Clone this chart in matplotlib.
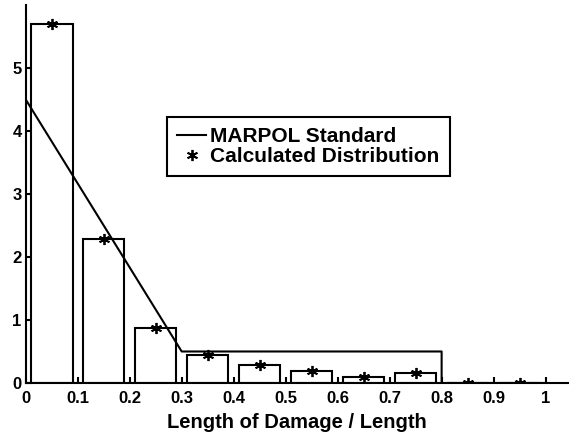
import numpy as np
import matplotlib
matplotlib.use('Agg')
import matplotlib.pyplot as plt
from matplotlib.legend_handler import HandlerLine2D

plt.rcParams['font.family'] = ['Liberation Sans', 'DejaVu Sans']
plt.rcParams['font.weight'] = 'bold'

# 损伤长度分布（按 0.1 分组）
bin_centers = [0.05, 0.15, 0.25, 0.35, 0.45, 0.55, 0.65, 0.75, 0.85, 0.95]
density = [5.70, 2.28, 0.88, 0.44, 0.28, 0.19, 0.09, 0.16, 0.0, 0.0]

# MARPOL 标准分布（折线）
marpol_x = [0.0, 0.3, 0.8, 0.8, 1.0]
marpol_y = [4.5, 0.5, 0.5, 0.0, 0.0]

x_ticks = [0, 0.1, 0.2, 0.3, 0.4, 0.5, 0.6, 0.7, 0.8, 0.9, 1.0]
x_tick_labels = ['0', '0.1', '0.2', '0.3', '0.4', '0.5', '0.6', '0.7', '0.8', '0.9', '1']
y_ticks = [0, 1, 2, 3, 4, 5]


class LeftMarkerHandler(HandlerLine2D):
    """图例中标记靠左放置"""
    def get_xdata(self, legend, xdescent, ydescent, width, height, fontsize):
        xdata = np.array([-xdescent, -xdescent + width])
        xdata_marker = np.array([-xdescent + 0.14 * width])
        return xdata, xdata_marker


lw = 1.5
fig = plt.figure(figsize=(5.69, 4.37), dpi=100)
ax = fig.add_axes([0.0452, 0.1236, 0.9548, 0.865])

ax.bar(bin_centers, density, width=0.08, facecolor='white', edgecolor='black',
       linewidth=lw, zorder=2)
line, = ax.plot(marpol_x, marpol_y, color='black', linewidth=lw, zorder=3,
                label='MARPOL Standard')
stars, = ax.plot(bin_centers, density, linestyle='none', marker=(6, 2, 0), markersize=8,
                 markeredgewidth=1.3, color='black', zorder=4, label='Calculated Distribution')

ax.set_xlim(0, 1.045)
ax.set_ylim(0, 6)
ax.set_xticks(x_ticks)
ax.set_xticklabels(x_tick_labels)
ax.set_yticks(y_ticks)
ax.tick_params(direction='in', length=4, width=lw, labelsize=12)
ax.tick_params(axis='x', pad=6)
ax.tick_params(axis='y', pad=3)
for lbl in ax.get_xticklabels() + ax.get_yticklabels():
    lbl.set_fontweight('bold')

for side in ['top', 'right']:
    ax.spines[side].set_visible(False)
for side in ['left', 'bottom']:
    ax.spines[side].set_linewidth(lw)

ax.set_xlabel('Length of Damage / Length', fontsize=14.5, fontweight='bold', labelpad=5)

leg = fig.legend(handles=[line, stars], loc='upper left',
                 bbox_to_anchor=(167 / 569, 1 - 117 / 437), bbox_transform=fig.transFigure,
                 borderaxespad=0, fancybox=False, edgecolor='black', framealpha=1,
                 handlelength=1.4, prop={'size': 15, 'weight': 'bold'}, borderpad=0.48,
                 labelspacing=0.05, handletextpad=0.2,
                 handler_map={stars: LeftMarkerHandler()})
leg.get_frame().set_linewidth(lw)

fig.savefig('out.png', dpi=100)
